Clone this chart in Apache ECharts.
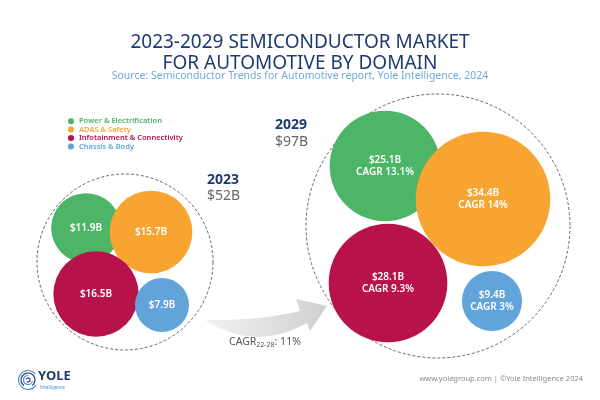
<!DOCTYPE html>
<html>
<head>
<meta charset="utf-8">
<script src="https://cdn.jsdelivr.net/npm/echarts@6/dist/echarts.min.js"></script>
<style>html,body{margin:0;padding:0;background:#fff}#chart{width:600px;height:400px}</style>
</head>
<body>
<div id="chart"></div>
<script>
// ---- data ----
const domains = ['Power & Electrification', 'ADAS & Safety', 'Infotainment & Connectivity', 'Chassis & Body'];
const years = ['2023', '2029'];
const totals = [52, 97];
const values2023 = [11.9, 15.7, 16.5, 7.9];
const values2029 = [25.1, 34.4, 28.1, 9.4];
const cagr2029 = [13.1, 14, 9.3, 3];
const overallCagrLabel = '22-28';
const overallCagr = 11;

// ---- layout (packing positions in a 60 x 40 layout space) ----
const groupCenters = [[12.5, 26.2], [43.8, 22.6]];
const groupRadii = [8.8, 13.2];
const bubbleCenters2023 = [[8.6, 22.8], [15.1, 23.2], [9.6, 29.4], [16.2, 30.5]];
const bubbleCenters2029 = [[38.5, 16.6], [48.3, 19.9], [38.8, 28.3], [49.2, 30.1]];
const colors = ['#4db567', '#f8a431', '#b8124b', '#62a4d9'];
const FONT = '"Noto Sans", sans-serif';
const NAVY = '#1e3a70';

function radiusUnits(v) { return 0.75 * Math.pow(v, 0.62); }

const domainSeries = domains.map((name, i) => ({
  name: name,
  type: 'custom',
  coordinateSystem: 'cartesian2d',
  silent: true,
  itemStyle: { color: colors[i] },
  data: [
    [bubbleCenters2023[i][0], bubbleCenters2023[i][1], values2023[i], -1],
    [bubbleCenters2029[i][0], bubbleCenters2029[i][1], values2029[i], cagr2029[i]]
  ],
  renderItem: function (params, api) {
    const c = api.coord([api.value(0), api.value(1)]);
    const v = api.value(2);
    const cg = api.value(3);
    const r = api.size([radiusUnits(v), 0])[0];
    const txt = '$' + v + 'B' + (cg >= 0 ? '\nCAGR ' + cg + '%' : '');
    return {
      type: 'group',
      children: [
        { type: 'circle', shape: { cx: c[0], cy: c[1], r: r }, style: { fill: colors[i] } },
        { type: 'text', x: c[0], y: c[1], style: {
            text: txt, fill: '#fff', font: '600 10px ' + FONT, align: 'center', verticalAlign: 'middle', lineHeight: 12.5 } }
      ]
    };
  }
}));

const enclosureSeries = {
  name: 'Total',
  type: 'custom',
  coordinateSystem: 'cartesian2d',
  silent: true,
  z: 1,
  data: years.map((y, k) => [groupCenters[k][0], groupCenters[k][1], totals[k], groupRadii[k]]),
  renderItem: function (params, api) {
    const c = api.coord([api.value(0), api.value(1)]);
    const r = api.size([api.value(3), 0])[0];
    return { type: 'circle', shape: { cx: c[0], cy: c[1], r: r },
      style: { fill: 'none', stroke: '#555', lineWidth: 0.9, lineDash: [3, 2] } };
  }
};

// growth arrow outline (decoration) sampled from quadratic curves
function quad(p0, c, p1, n) {
  const pts = [];
  for (let k = 0; k <= n; k++) {
    const t = k / n, u = 1 - t;
    pts.push([u * u * p0[0] + 2 * u * t * c[0] + t * t * p1[0], u * u * p0[1] + 2 * u * t * c[1] + t * t * p1[1]]);
  }
  return pts;
}
const arrowPts = quad([205, 320], [257, 321], [300, 311], 20)
  .concat([[296, 299], [327, 306], [310, 331]])
  .concat(quad([307, 323], [254, 352], [205, 320], 20));

const chart = echarts.init(document.getElementById('chart'));
chart.setOption({
  backgroundColor: '#fff',
  animation: false,
  title: [
    { text: '2023-2029 SEMICONDUCTOR MARKET\nFOR AUTOMOTIVE BY DOMAIN', left: 'center', top: 27,
      textStyle: { fontFamily: FONT, fontSize: 19, fontWeight: 'normal', color: NAVY, lineHeight: 21 } },
    { text: 'Source: Semiconductor Trends for Automotive report, Yole Intelligence, 2024', left: 'center', top: 66,
      textStyle: { fontFamily: FONT, fontSize: 10.5, fontWeight: 'normal', color: '#6eaad9' } }
  ],
  legend: {
    orient: 'vertical', left: 63, top: 112, icon: 'circle', itemWidth: 6, itemHeight: 6, itemGap: 0,
    selectedMode: false,
    data: domains.map((d, i) => ({ name: d, itemStyle: { color: colors[i] }, textStyle: { color: colors[i] } })),
    textStyle: { fontFamily: FONT, fontSize: 7.5, fontWeight: 600, lineHeight: 8.4 }
  },
  grid: { left: 0, right: 0, top: 0, bottom: 0 },
  xAxis: { type: 'value', min: 0, max: 60, show: false },
  yAxis: { type: 'value', min: 0, max: 40, inverse: true, show: false },
  series: [enclosureSeries].concat(domainSeries),
  graphic: [
    { type: 'text', left: 207, top: 173, style: { text: years[0], font: 'bold 14px ' + FONT, fill: NAVY } },
    { type: 'text', left: 207, top: 189, style: { text: '$' + totals[0] + 'B', font: '14px ' + FONT, fill: '#666' } },
    { type: 'text', left: 275, top: 118, style: { text: years[1], font: 'bold 14px ' + FONT, fill: NAVY } },
    { type: 'text', left: 275, top: 135, style: { text: '$' + totals[1] + 'B', font: '14px ' + FONT, fill: '#666' } },
    { type: 'polygon', z: 0, shape: { points: arrowPts },
      style: { fill: new echarts.graphic.LinearGradient(0, 0, 1, 0, [{ offset: 0, color: '#f2f2f2' }, { offset: 1, color: '#cfcfcf' }]) } },
    { type: 'text', left: 229, top: 337, style: {
        text: '{a|CAGR}{s|' + overallCagrLabel + '}{a|: ' + overallCagr + '%}',
        rich: { a: { font: '10.5px ' + FONT, fill: '#555', verticalAlign: 'bottom', lineHeight: 12 },
                s: { font: '7px ' + FONT, fill: '#555', verticalAlign: 'bottom', lineHeight: 8 } } } },
    { type: 'text', right: 17, top: 375, style: { text: 'www.yolegroup.com | ©Yole Intelligence 2024', font: '7.5px ' + FONT, fill: '#8a8a8a' } },
    { type: 'group', left: 16, top: 368, children: [
      { type: 'arc', shape: { cx: 10, cy: 10, r: 9.5, startAngle: 0.6, endAngle: 5.6 }, style: { stroke: '#4a8fc9', lineWidth: 1.2, fill: 'none' } },
      { type: 'arc', shape: { cx: 10, cy: 10, r: 7, startAngle: 2.2, endAngle: 7.2 }, style: { stroke: NAVY, lineWidth: 1.2, fill: 'none' } },
      { type: 'arc', shape: { cx: 10, cy: 10, r: 4.5, startAngle: 0.2, endAngle: 4.8 }, style: { stroke: '#4a8fc9', lineWidth: 1.2, fill: 'none' } },
      { type: 'arc', shape: { cx: 10, cy: 10, r: 2, startAngle: 3.5, endAngle: 8.5 }, style: { stroke: NAVY, lineWidth: 1.1, fill: 'none' } }
    ] },
    { type: 'text', left: 38, top: 370, style: { text: 'YOLE', font: 'bold 13px ' + FONT, fill: NAVY } },
    { type: 'text', left: 40, top: 385, style: { text: 'Intelligence', font: '4.5px ' + FONT, fill: '#4a8fc9' } }
  ]
});
</script>
</body>
</html>
